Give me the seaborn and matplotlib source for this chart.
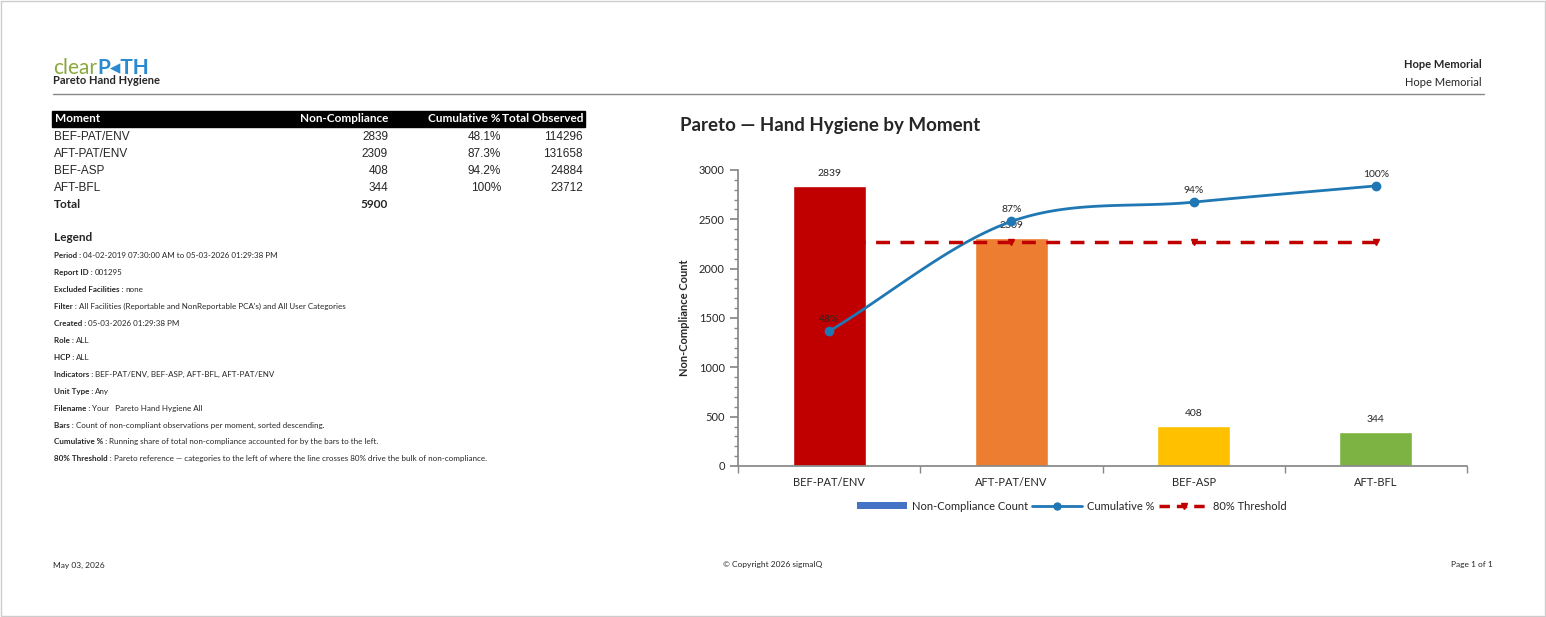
import numpy as np
import pandas as pd
import matplotlib
matplotlib.use("Agg")
import matplotlib.pyplot as plt
import seaborn as sns
from matplotlib.lines import Line2D
from matplotlib.patches import Rectangle, Patch

moments = ["BEF-PAT/ENV", "AFT-PAT/ENV", "BEF-ASP", "AFT-BFL"]
noncomp = [2839, 2309, 408, 344]
cum_pct = [48.1, 87.3, 94.2, 100.0]
cum_lbl = ["48%", "87%", "94%", "100%"]
cum_tbl = ["48.1%", "87.3%", "94.2%", "100%"]
observed = [114296, 131658, 24884, 23712]
total = 5900
threshold = 80
bar_colors = ["#c00000", "#ed7d31", "#ffc000", "#7cb342"]

legend_items = [
    ("Period :", "04-02-2019 07:30:00 AM to 05-03-2026 01:29:38 PM"),
    ("Report ID :", "001295"),
    ("Excluded Facilities :", "none"),
    ("Filter :", "All Facilities (Reportable and NonReportable PCA's) and All User Categories"),
    ("Created :", "05-03-2026 01:29:38 PM"),
    ("Role :", "ALL"),
    ("HCP :", "ALL"),
    ("Indicators :", "BEF-PAT/ENV, BEF-ASP, AFT-BFL, AFT-PAT/ENV"),
    ("Unit Type :", "Any"),
    ("Filename :", "Your   Pareto Hand Hygiene All"),
    ("Bars :", "Count of non-compliant observations per moment, sorted descending."),
    ("Cumulative % :", "Running share of total non-compliance accounted for by the bars to the left."),
    ("80% Threshold :", "Pareto reference \u2014 categories to the left of where the line crosses 80% drive the bulk of non-compliance."),
]

sns.set_theme(style="white")
plt.rcParams['font.family'] = ['Lato', 'DejaVu Sans']

W, H = 1546, 617
fig = plt.figure(figsize=(W/100, H/100), dpi=100)
def fx(x): return x / W
def fy(y): return 1 - y / H

fig.patches.append(Rectangle((0.0005, 0.001), 0.999, 0.997, transform=fig.transFigure,
                             fill=False, edgecolor="#cccccc", lw=1))
fig.canvas.draw()
r = fig.canvas.get_renderer()

# header
t0 = fig.text(fx(53), fy(68), "clear", color="#8aa83c", fontsize=15, va="center")
bb0 = t0.get_window_extent(renderer=r)
fig.text(bb0.x1 / W, fy(68), "P\u25c2TH", color="#2a8ad0", fontsize=15, va="center", weight="bold")
fig.text(fx(53), fy(81), "Pareto Hand Hygiene", fontsize=8, weight="bold", va="center")
fig.text(fx(1482), fy(65), "Hope Memorial", fontsize=8, weight="bold", ha="right", va="center")
fig.text(fx(1482), fy(82), "Hope Memorial", fontsize=8, ha="right", va="center")
fig.add_artist(Line2D([fx(53), fx(1484)], [fy(94), fy(94)], color="#888888", lw=1))

# table
fig.patches.append(Rectangle((fx(52), fy(127)), fx(533), 16/H, transform=fig.transFigure,
                             color="black"))
hy = fy(119)
fig.text(fx(55), hy, "Moment", color="white", fontsize=8.5, weight="bold", va="center")
fig.text(fx(388), hy, "Non-Compliance", color="white", fontsize=8.5, weight="bold", va="center", ha="right")
fig.text(fx(501), hy, "Cumulative %", color="white", fontsize=8.5, weight="bold", va="center", ha="right")
fig.text(fx(583), hy, "Total Observed", color="white", fontsize=8.5, weight="bold", va="center", ha="right")
for i in range(len(moments)):
    y = fy(137 + 17 * i)
    fig.text(fx(54), y, moments[i], fontsize=8.5, va="center", family="Liberation Sans")
    fig.text(fx(388), y, str(noncomp[i]), fontsize=8.5, va="center", ha="right", family="Liberation Sans")
    fig.text(fx(501), y, cum_tbl[i], fontsize=8.5, va="center", ha="right", family="Liberation Sans")
    fig.text(fx(583), y, str(observed[i]), fontsize=8.5, va="center", ha="right", family="Liberation Sans")
fig.text(fx(54), fy(204), "Total", fontsize=8.5, weight="bold", va="center")
fig.text(fx(388), fy(204), str(total), fontsize=8.5, weight="bold", va="center", ha="right")

fig.text(fx(54), fy(238), "Legend", fontsize=8.5, weight="bold", va="center")
for i, (k, v) in enumerate(legend_items):
    y = fy(256 + 16.9 * i)
    t = fig.text(fx(54), y, k + " ", fontsize=5.8, weight="bold", va="center")
    bb = t.get_window_extent(renderer=r)
    fig.text(bb.x1 / W, y, v, fontsize=5.8, va="center")

fig.text(fx(53), fy(565), "May 03, 2026", fontsize=6, va="center")
fig.text(fx(773), fy(565), "\u00a9 Copyright 2026 sigmaIQ", fontsize=6, va="center", ha="center")
fig.text(fx(1493), fy(565), "Page 1 of 1", fontsize=6, va="center", ha="right")

# chart
fig.text(fx(680), fy(126), "Pareto \u2014 Hand Hygiene by Moment", fontsize=13.5, weight="bold", va="center")
ax = fig.add_axes([fx(738), fy(466), fx(1467) - fx(738), (466 - 170) / H])
df = pd.DataFrame({"Moment": moments, "Count": noncomp})
sns.barplot(data=df, x="Moment", y="Count", hue="Moment", palette=bar_colors,
            width=0.4, ax=ax, legend=False, saturation=1)
ax.set_xlim(-0.5, 3.5)
ax.set_ylim(0, 3000)
ax.set_xlabel("")
ax.set_ylabel("Non-Compliance Count", fontsize=8, weight="bold", labelpad=6)
ax.set_yticks(range(0, 3001, 500))
ax.set_yticks(range(0, 3001, 100), minor=True)
ax.set_xticks([0, 1, 2, 3])
ax.set_xticks([-0.5, 0.5, 1.5, 2.5, 3.5], minor=True)
ax.tick_params(axis="y", which="major", left=True, length=6, labelsize=8, color="#888888")
ax.tick_params(axis="y", which="minor", left=True, length=3, color="#888888")
ax.tick_params(axis="x", which="major", bottom=False, labelsize=8, pad=2)
ax.tick_params(axis="x", which="minor", bottom=True, length=5, color="#888888")
for s in ["top", "right"]:
    ax.spines[s].set_visible(False)
for s in ["left", "bottom"]:
    ax.spines[s].set_color("#888888")
for i, v in enumerate(noncomp):
    ax.text(i, v + 80, str(v), ha="center", va="bottom", fontsize=7.5)

ax2 = ax.twinx()
ax2.set_ylim(0, 100 * 3000 / max(noncomp))
ax2.axis("off")
x = np.arange(len(moments), dtype=float)
y = np.array(cum_pct)
# monotone cubic smoothing for display
d = np.diff(y) / np.diff(x)
m = np.concatenate([[d[0]], (d[:-1] + d[1:]) / 2, [d[-1]]])
xs, ys = [], []
for k in range(len(d)):
    t = np.linspace(0, 1, 40)
    h00 = 2*t**3 - 3*t**2 + 1; h10 = t**3 - 2*t**2 + t
    h01 = -2*t**3 + 3*t**2; h11 = t**3 - t**2
    xs.extend(x[k] + t); ys.extend(h00*y[k] + h10*m[k] + h01*y[k+1] + h11*m[k+1])
ax2.plot(xs, ys, color="#1f77b4", lw=2)
ax2.plot(x, y, "o", color="#1f77b4", ms=6)
for i in range(len(x)):
    ax2.text(x[i], y[i] + 2.5, cum_lbl[i], ha="center", va="bottom", fontsize=7.5)
ax2.plot([-0.01, 3], [threshold] * 2, color="#c00000", lw=2.5, dashes=(4, 3))
ax2.plot(x[1:], [threshold] * 3, "v", color="#c00000", ms=5)
ax2.set_xlim(-0.5, 3.5)

handles = [Patch(facecolor="#4472c4", edgecolor="none"),
           Line2D([], [], color="#1f77b4", lw=2, marker="o", ms=5),
           Line2D([], [], color="#c00000", lw=2.5, dashes=(3, 2), marker="v", ms=5)]
fig.legend(handles, ["Non-Compliance Count", "Cumulative %", "80% Threshold"],
           loc="center", bbox_to_anchor=(fx(1072), fy(506)), ncol=3, frameon=False,
           fontsize=8, handlelength=4.5, handleheight=0.5, columnspacing=0.4, handletextpad=0.4)

fig.savefig("out.png", dpi=100)
